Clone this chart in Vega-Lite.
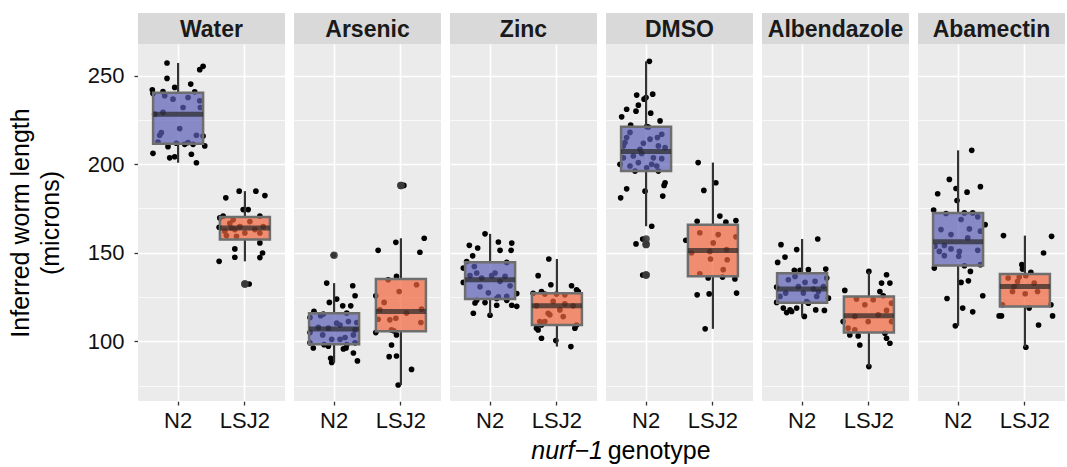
{
"$schema": "https://vega.github.io/schema/vega-lite/v6.json",
"padding": {"left": 8, "top": 13, "right": 0, "bottom": 5},
"config": {"font": "Liberation Sans", "view": {"stroke": null}},
"spacing": 0,
"title": {"text": "nurf−1", "subtitle": "\u200b\u00a0\u00a0\u00a0\u00a0\u00a0\u00a0\u00a0\u00a0\u00a0\u00a0\u00a0genotype", "orient": "bottom", "anchor": "start", "frame": "bounds", "dx": 523, "offset": 8, "fontSize": 25, "fontStyle": "italic", "fontWeight": "normal", "color": "#000000", "subtitleFontSize": 25, "subtitleColor": "#000000", "subtitleFontStyle": "normal", "subtitlePadding": -25},
"datasets": {"pts": [
{"trt":"Water","geno":"N2","len":257.1,"jit":-0.165},{"trt":"Water","geno":"N2","len":253.3,"jit":0.325},{"trt":"Water","geno":"N2","len":255.2,"jit":0.375},{"trt":"Water","geno":"N2","len":248.4,"jit":-0.165},{"trt":"Water","geno":"N2","len":245.2,"jit":0.19},{"trt":"Water","geno":"N2","len":243.3,"jit":-0.05},{"trt":"Water","geno":"N2","len":242.0,"jit":-0.385},{"trt":"Water","geno":"N2","len":241.0,"jit":-0.225},{"trt":"Water","geno":"N2","len":240.8,"jit":0.25},{"trt":"Water","geno":"N2","len":239.9,"jit":-0.375},{"trt":"Water","geno":"N2","len":238.6,"jit":-0.2},{"trt":"Water","geno":"N2","len":236.7,"jit":-0.075},{"trt":"Water","geno":"N2","len":237.6,"jit":0.15},{"trt":"Water","geno":"N2","len":235.8,"jit":0.325},{"trt":"Water","geno":"N2","len":232.0,"jit":0.075},{"trt":"Water","geno":"N2","len":232.0,"jit":0.335},{"trt":"Water","geno":"N2","len":229.2,"jit":-0.225},{"trt":"Water","geno":"N2","len":228.2,"jit":-0.35},{"trt":"Water","geno":"N2","len":220.1,"jit":0.025},{"trt":"Water","geno":"N2","len":217.8,"jit":-0.25},{"trt":"Water","geno":"N2","len":216.3,"jit":-0.275},{"trt":"Water","geno":"N2","len":216.3,"jit":0.275},{"trt":"Water","geno":"N2","len":215.9,"jit":0.375},{"trt":"Water","geno":"N2","len":212.5,"jit":-0.3},{"trt":"Water","geno":"N2","len":211.8,"jit":-0.025},{"trt":"Water","geno":"N2","len":211.2,"jit":0.1},{"trt":"Water","geno":"N2","len":211.2,"jit":0.225},{"trt":"Water","geno":"N2","len":212.2,"jit":0.15},{"trt":"Water","geno":"N2","len":209.9,"jit":-0.15},{"trt":"Water","geno":"N2","len":210.3,"jit":0.4},{"trt":"Water","geno":"N2","len":206.1,"jit":-0.375},{"trt":"Water","geno":"N2","len":205.6,"jit":0.2},{"trt":"Water","geno":"N2","len":203.6,"jit":-0.125},{"trt":"Water","geno":"N2","len":204.2,"jit":-0.05},{"trt":"Water","geno":"N2","len":200.8,"jit":0.275},
{"trt":"Water","geno":"LSJ2","len":184.8,"jit":-0.085},{"trt":"Water","geno":"LSJ2","len":184.8,"jit":0.165},{"trt":"Water","geno":"LSJ2","len":182.3,"jit":0.3},{"trt":"Water","geno":"LSJ2","len":181.0,"jit":-0.285},{"trt":"Water","geno":"LSJ2","len":174.4,"jit":-0.025},{"trt":"Water","geno":"LSJ2","len":174.4,"jit":0.05},{"trt":"Water","geno":"LSJ2","len":169.7,"jit":-0.375},{"trt":"Water","geno":"LSJ2","len":170.7,"jit":-0.325},{"trt":"Water","geno":"LSJ2","len":170.7,"jit":0.225},{"trt":"Water","geno":"LSJ2","len":164.4,"jit":-0.385},{"trt":"Water","geno":"LSJ2","len":164.0,"jit":-0.2},{"trt":"Water","geno":"LSJ2","len":163.1,"jit":-0.15},{"trt":"Water","geno":"LSJ2","len":159.7,"jit":-0.275},{"trt":"Water","geno":"LSJ2","len":159.3,"jit":-0.125},{"trt":"Water","geno":"LSJ2","len":161.2,"jit":0.225},{"trt":"Water","geno":"LSJ2","len":155.6,"jit":0.225},{"trt":"Water","geno":"LSJ2","len":152.2,"jit":-0.15},{"trt":"Water","geno":"LSJ2","len":149.9,"jit":0.265},{"trt":"Water","geno":"LSJ2","len":147.5,"jit":-0.15},{"trt":"Water","geno":"LSJ2","len":147.3,"jit":0.225},{"trt":"Water","geno":"LSJ2","len":145.2,"jit":-0.385},{"trt":"Water","geno":"LSJ2","len":132.4,"jit":0.0},{"trt":"Water","geno":"LSJ2","len":132.4,"jit":0.065},{"trt":"Water","geno":"LSJ2","len":166.7,"jit":-0.225},{"trt":"Water","geno":"LSJ2","len":164.8,"jit":-0.075},{"trt":"Water","geno":"LSJ2","len":167.6,"jit":0.075},{"trt":"Water","geno":"LSJ2","len":163.1,"jit":0.15},{"trt":"Water","geno":"LSJ2","len":161.2,"jit":0.0},{"trt":"Water","geno":"LSJ2","len":162.2,"jit":-0.3},{"trt":"Water","geno":"LSJ2","len":164.8,"jit":0.275},{"trt":"Water","geno":"LSJ2","len":168.6,"jit":-0.175},
{"trt":"Arsenic","geno":"N2","len":148.6,"jit":-0.01},{"trt":"Arsenic","geno":"N2","len":132.9,"jit":-0.11},{"trt":"Arsenic","geno":"N2","len":131.4,"jit":0.28},{"trt":"Arsenic","geno":"N2","len":125.8,"jit":0.315},{"trt":"Arsenic","geno":"N2","len":123.9,"jit":0.04},{"trt":"Arsenic","geno":"N2","len":122.0,"jit":-0.07},{"trt":"Arsenic","geno":"N2","len":120.1,"jit":0.13},{"trt":"Arsenic","geno":"N2","len":120.1,"jit":0.25},{"trt":"Arsenic","geno":"N2","len":117.0,"jit":-0.3},{"trt":"Arsenic","geno":"N2","len":115.5,"jit":-0.16},{"trt":"Arsenic","geno":"N2","len":116.0,"jit":0.19},{"trt":"Arsenic","geno":"N2","len":114.5,"jit":-0.2},{"trt":"Arsenic","geno":"N2","len":113.5,"jit":-0.36},{"trt":"Arsenic","geno":"N2","len":110.3,"jit":0.04},{"trt":"Arsenic","geno":"N2","len":110.7,"jit":0.34},{"trt":"Arsenic","geno":"N2","len":107.9,"jit":-0.235},{"trt":"Arsenic","geno":"N2","len":106.5,"jit":0.315},{"trt":"Arsenic","geno":"N2","len":105.0,"jit":-0.36},{"trt":"Arsenic","geno":"N2","len":103.7,"jit":0.29},{"trt":"Arsenic","geno":"N2","len":103.7,"jit":-0.17},{"trt":"Arsenic","geno":"N2","len":101.2,"jit":-0.035},{"trt":"Arsenic","geno":"N2","len":101.2,"jit":0.09},{"trt":"Arsenic","geno":"N2","len":102.2,"jit":0.165},{"trt":"Arsenic","geno":"N2","len":99.2,"jit":-0.36},{"trt":"Arsenic","geno":"N2","len":98.2,"jit":-0.15},{"trt":"Arsenic","geno":"N2","len":98.2,"jit":0.19},{"trt":"Arsenic","geno":"N2","len":99.2,"jit":0.315},{"trt":"Arsenic","geno":"N2","len":96.3,"jit":-0.31},{"trt":"Arsenic","geno":"N2","len":97.3,"jit":-0.085},{"trt":"Arsenic","geno":"N2","len":95.8,"jit":0.14},{"trt":"Arsenic","geno":"N2","len":96.3,"jit":0.18},{"trt":"Arsenic","geno":"N2","len":93.5,"jit":0.29},{"trt":"Arsenic","geno":"N2","len":90.5,"jit":-0.05},{"trt":"Arsenic","geno":"N2","len":88.1,"jit":-0.035},{"trt":"Arsenic","geno":"N2","len":89.0,"jit":0.35},{"trt":"Arsenic","geno":"N2","len":109.3,"jit":0.09},{"trt":"Arsenic","geno":"N2","len":107.5,"jit":-0.085},{"trt":"Arsenic","geno":"N2","len":111.2,"jit":0.215},
{"trt":"Arsenic","geno":"LSJ2","len":188.0,"jit":0.01},{"trt":"Arsenic","geno":"LSJ2","len":188.0,"jit":0.045},{"trt":"Arsenic","geno":"LSJ2","len":155.9,"jit":-0.075},{"trt":"Arsenic","geno":"LSJ2","len":158.2,"jit":0.35},{"trt":"Arsenic","geno":"LSJ2","len":151.4,"jit":-0.34},{"trt":"Arsenic","geno":"LSJ2","len":150.3,"jit":0.285},{"trt":"Arsenic","geno":"LSJ2","len":134.8,"jit":-0.19},{"trt":"Arsenic","geno":"LSJ2","len":136.7,"jit":-0.065},{"trt":"Arsenic","geno":"LSJ2","len":132.0,"jit":0.235},{"trt":"Arsenic","geno":"LSJ2","len":125.8,"jit":-0.375},{"trt":"Arsenic","geno":"LSJ2","len":128.2,"jit":-0.025},{"trt":"Arsenic","geno":"LSJ2","len":122.0,"jit":-0.25},{"trt":"Arsenic","geno":"LSJ2","len":118.2,"jit":0.31},{"trt":"Arsenic","geno":"LSJ2","len":117.8,"jit":-0.315},{"trt":"Arsenic","geno":"LSJ2","len":113.1,"jit":-0.075},{"trt":"Arsenic","geno":"LSJ2","len":112.5,"jit":-0.34},{"trt":"Arsenic","geno":"LSJ2","len":110.7,"jit":0.3},{"trt":"Arsenic","geno":"LSJ2","len":106.5,"jit":-0.14},{"trt":"Arsenic","geno":"LSJ2","len":106.0,"jit":-0.105},{"trt":"Arsenic","geno":"LSJ2","len":105.0,"jit":-0.375},{"trt":"Arsenic","geno":"LSJ2","len":103.7,"jit":-0.065},{"trt":"Arsenic","geno":"LSJ2","len":98.0,"jit":-0.14},{"trt":"Arsenic","geno":"LSJ2","len":91.8,"jit":-0.065},{"trt":"Arsenic","geno":"LSJ2","len":91.4,"jit":-0.175},{"trt":"Arsenic","geno":"LSJ2","len":84.2,"jit":0.16},{"trt":"Arsenic","geno":"LSJ2","len":75.4,"jit":-0.04},{"trt":"Arsenic","geno":"LSJ2","len":116.0,"jit":0.085},{"trt":"Arsenic","geno":"LSJ2","len":112.2,"jit":-0.165},
{"trt":"Zinc","geno":"N2","len":160.7,"jit":-0.075},{"trt":"Zinc","geno":"N2","len":154.2,"jit":-0.31},{"trt":"Zinc","geno":"N2","len":152.7,"jit":-0.185},{"trt":"Zinc","geno":"N2","len":156.1,"jit":0.125},{"trt":"Zinc","geno":"N2","len":155.5,"jit":0.325},{"trt":"Zinc","geno":"N2","len":151.4,"jit":0.15},{"trt":"Zinc","geno":"N2","len":151.4,"jit":0.315},{"trt":"Zinc","geno":"N2","len":148.3,"jit":-0.26},{"trt":"Zinc","geno":"N2","len":145.1,"jit":-0.35},{"trt":"Zinc","geno":"N2","len":144.6,"jit":0.25},{"trt":"Zinc","geno":"N2","len":142.3,"jit":-0.235},{"trt":"Zinc","geno":"N2","len":141.4,"jit":-0.4},{"trt":"Zinc","geno":"N2","len":138.6,"jit":-0.2},{"trt":"Zinc","geno":"N2","len":137.1,"jit":0.025},{"trt":"Zinc","geno":"N2","len":136.7,"jit":0.225},{"trt":"Zinc","geno":"N2","len":133.3,"jit":-0.4},{"trt":"Zinc","geno":"N2","len":130.8,"jit":-0.15},{"trt":"Zinc","geno":"N2","len":131.4,"jit":0.3},{"trt":"Zinc","geno":"N2","len":127.4,"jit":-0.025},{"trt":"Zinc","geno":"N2","len":127.0,"jit":0.4},{"trt":"Zinc","geno":"N2","len":125.5,"jit":0.25},{"trt":"Zinc","geno":"N2","len":125.1,"jit":0.125},{"trt":"Zinc","geno":"N2","len":123.2,"jit":-0.2},{"trt":"Zinc","geno":"N2","len":121.9,"jit":-0.075},{"trt":"Zinc","geno":"N2","len":120.4,"jit":0.1},{"trt":"Zinc","geno":"N2","len":123.2,"jit":0.25},{"trt":"Zinc","geno":"N2","len":120.4,"jit":0.325},{"trt":"Zinc","geno":"N2","len":119.8,"jit":0.4},{"trt":"Zinc","geno":"N2","len":121.7,"jit":-0.225},{"trt":"Zinc","geno":"N2","len":115.9,"jit":-0.25},{"trt":"Zinc","geno":"N2","len":114.8,"jit":0.0},{"trt":"Zinc","geno":"N2","len":124.2,"jit":0.1},{"trt":"Zinc","geno":"N2","len":137.1,"jit":-0.3},{"trt":"Zinc","geno":"N2","len":133.9,"jit":0.15},{"trt":"Zinc","geno":"N2","len":135.8,"jit":-0.125},{"trt":"Zinc","geno":"N2","len":138.6,"jit":0.075},
{"trt":"Zinc","geno":"LSJ2","len":146.5,"jit":-0.12},{"trt":"Zinc","geno":"LSJ2","len":137.1,"jit":-0.28},{"trt":"Zinc","geno":"LSJ2","len":132.0,"jit":-0.09},{"trt":"Zinc","geno":"LSJ2","len":131.4,"jit":0.22},{"trt":"Zinc","geno":"LSJ2","len":129.1,"jit":0.295},{"trt":"Zinc","geno":"LSJ2","len":128.2,"jit":-0.23},{"trt":"Zinc","geno":"LSJ2","len":127.2,"jit":-0.355},{"trt":"Zinc","geno":"LSJ2","len":126.7,"jit":-0.18},{"trt":"Zinc","geno":"LSJ2","len":126.7,"jit":-0.005},{"trt":"Zinc","geno":"LSJ2","len":126.3,"jit":0.12},{"trt":"Zinc","geno":"LSJ2","len":128.2,"jit":0.32},{"trt":"Zinc","geno":"LSJ2","len":121.2,"jit":0.12},{"trt":"Zinc","geno":"LSJ2","len":120.1,"jit":-0.305},{"trt":"Zinc","geno":"LSJ2","len":120.1,"jit":0.245},{"trt":"Zinc","geno":"LSJ2","len":115.9,"jit":-0.13},{"trt":"Zinc","geno":"LSJ2","len":114.0,"jit":0.095},{"trt":"Zinc","geno":"LSJ2","len":111.2,"jit":-0.18},{"trt":"Zinc","geno":"LSJ2","len":111.2,"jit":-0.255},{"trt":"Zinc","geno":"LSJ2","len":109.3,"jit":-0.23},{"trt":"Zinc","geno":"LSJ2","len":109.3,"jit":0.295},{"trt":"Zinc","geno":"LSJ2","len":106.5,"jit":-0.28},{"trt":"Zinc","geno":"LSJ2","len":107.5,"jit":-0.305},{"trt":"Zinc","geno":"LSJ2","len":107.5,"jit":0.27},{"trt":"Zinc","geno":"LSJ2","len":101.8,"jit":-0.23},{"trt":"Zinc","geno":"LSJ2","len":100.5,"jit":-0.015},{"trt":"Zinc","geno":"LSJ2","len":97.1,"jit":0.21},{"trt":"Zinc","geno":"LSJ2","len":122.6,"jit":-0.055},{"trt":"Zinc","geno":"LSJ2","len":117.8,"jit":0.045},{"trt":"Zinc","geno":"LSJ2","len":115.0,"jit":-0.105},
{"trt":"DMSO","geno":"N2","len":258.0,"jit":0.05},{"trt":"DMSO","geno":"N2","len":239.0,"jit":-0.14},{"trt":"DMSO","geno":"N2","len":239.5,"jit":0.1},{"trt":"DMSO","geno":"N2","len":237.6,"jit":0.0},{"trt":"DMSO","geno":"N2","len":236.7,"jit":-0.03},{"trt":"DMSO","geno":"N2","len":233.3,"jit":-0.115},{"trt":"DMSO","geno":"N2","len":229.9,"jit":-0.15},{"trt":"DMSO","geno":"N2","len":228.8,"jit":0.07},{"trt":"DMSO","geno":"N2","len":226.7,"jit":-0.365},{"trt":"DMSO","geno":"N2","len":222.0,"jit":-0.23},{"trt":"DMSO","geno":"N2","len":221.2,"jit":0.01},{"trt":"DMSO","geno":"N2","len":216.9,"jit":0.235},{"trt":"DMSO","geno":"N2","len":215.0,"jit":0.17},{"trt":"DMSO","geno":"N2","len":209.3,"jit":0.285},{"trt":"DMSO","geno":"N2","len":212.2,"jit":-0.315},{"trt":"DMSO","geno":"N2","len":210.3,"jit":-0.34},{"trt":"DMSO","geno":"N2","len":211.8,"jit":-0.04},{"trt":"DMSO","geno":"N2","len":203.6,"jit":0.11},{"trt":"DMSO","geno":"N2","len":203.6,"jit":-0.34},{"trt":"DMSO","geno":"N2","len":203.1,"jit":0.235},{"trt":"DMSO","geno":"N2","len":199.9,"jit":0.085},{"trt":"DMSO","geno":"N2","len":199.9,"jit":-0.39},{"trt":"DMSO","geno":"N2","len":196.1,"jit":-0.165},{"trt":"DMSO","geno":"N2","len":196.1,"jit":0.185},{"trt":"DMSO","geno":"N2","len":189.5,"jit":0.285},{"trt":"DMSO","geno":"N2","len":188.0,"jit":0.27},{"trt":"DMSO","geno":"N2","len":186.1,"jit":-0.29},{"trt":"DMSO","geno":"N2","len":184.8,"jit":-0.015},{"trt":"DMSO","geno":"N2","len":181.0,"jit":-0.38},{"trt":"DMSO","geno":"N2","len":182.0,"jit":0.25},{"trt":"DMSO","geno":"N2","len":165.0,"jit":0.085},{"trt":"DMSO","geno":"N2","len":155.0,"jit":-0.15},{"trt":"DMSO","geno":"N2","len":157.8,"jit":-0.05},{"trt":"DMSO","geno":"N2","len":154.6,"jit":0.0},{"trt":"DMSO","geno":"N2","len":137.5,"jit":0.0},{"trt":"DMSO","geno":"N2","len":137.5,"jit":-0.05},{"trt":"DMSO","geno":"N2","len":204.6,"jit":-0.19},{"trt":"DMSO","geno":"N2","len":208.4,"jit":-0.09},{"trt":"DMSO","geno":"N2","len":210.3,"jit":0.185},{"trt":"DMSO","geno":"N2","len":199.0,"jit":-0.24},{"trt":"DMSO","geno":"N2","len":214.1,"jit":0.06},{"trt":"DMSO","geno":"N2","len":200.9,"jit":-0.115},{"trt":"DMSO","geno":"N2","len":217.9,"jit":-0.24},{"trt":"DMSO","geno":"N2","len":206.0,"jit":-0.065},{"trt":"DMSO","geno":"N2","len":215.0,"jit":-0.29},{"trt":"DMSO","geno":"N2","len":221.0,"jit":0.035},{"trt":"DMSO","geno":"N2","len":199.0,"jit":0.16},{"trt":"DMSO","geno":"N2","len":198.0,"jit":0.01},{"trt":"DMSO","geno":"N2","len":224.4,"jit":0.21},{"trt":"DMSO","geno":"N2","len":231.0,"jit":-0.29},
{"trt":"DMSO","geno":"LSJ2","len":200.9,"jit":-0.22},{"trt":"DMSO","geno":"LSJ2","len":189.5,"jit":0.045},{"trt":"DMSO","geno":"LSJ2","len":185.2,"jit":-0.135},{"trt":"DMSO","geno":"LSJ2","len":170.7,"jit":0.105},{"trt":"DMSO","geno":"LSJ2","len":167.8,"jit":-0.235},{"trt":"DMSO","geno":"LSJ2","len":167.3,"jit":0.195},{"trt":"DMSO","geno":"LSJ2","len":168.2,"jit":0.345},{"trt":"DMSO","geno":"LSJ2","len":160.3,"jit":0.08},{"trt":"DMSO","geno":"LSJ2","len":157.1,"jit":-0.405},{"trt":"DMSO","geno":"LSJ2","len":159.0,"jit":0.345},{"trt":"DMSO","geno":"LSJ2","len":155.6,"jit":0.005},{"trt":"DMSO","geno":"LSJ2","len":149.9,"jit":-0.32},{"trt":"DMSO","geno":"LSJ2","len":150.8,"jit":-0.045},{"trt":"DMSO","geno":"LSJ2","len":151.8,"jit":0.205},{"trt":"DMSO","geno":"LSJ2","len":146.5,"jit":-0.035},{"trt":"DMSO","geno":"LSJ2","len":146.1,"jit":0.215},{"trt":"DMSO","geno":"LSJ2","len":138.2,"jit":-0.195},{"trt":"DMSO","geno":"LSJ2","len":135.8,"jit":-0.07},{"trt":"DMSO","geno":"LSJ2","len":136.3,"jit":0.145},{"trt":"DMSO","geno":"LSJ2","len":135.2,"jit":0.33},{"trt":"DMSO","geno":"LSJ2","len":126.3,"jit":-0.235},{"trt":"DMSO","geno":"LSJ2","len":126.8,"jit":-0.055},{"trt":"DMSO","geno":"LSJ2","len":127.3,"jit":0.355},{"trt":"DMSO","geno":"LSJ2","len":107.1,"jit":-0.115},{"trt":"DMSO","geno":"LSJ2","len":161.3,"jit":-0.195},{"trt":"DMSO","geno":"LSJ2","len":140.5,"jit":0.155},
{"trt":"Albendazole","geno":"N2","len":157.8,"jit":0.235},{"trt":"Albendazole","geno":"N2","len":154.6,"jit":-0.315},{"trt":"Albendazole","geno":"N2","len":151.8,"jit":-0.08},{"trt":"Albendazole","geno":"N2","len":147.6,"jit":-0.255},{"trt":"Albendazole","geno":"N2","len":144.6,"jit":-0.365},{"trt":"Albendazole","geno":"N2","len":140.1,"jit":-0.115},{"trt":"Albendazole","geno":"N2","len":140.1,"jit":-0.03},{"trt":"Albendazole","geno":"N2","len":140.5,"jit":0.095},{"trt":"Albendazole","geno":"N2","len":140.8,"jit":0.355},{"trt":"Albendazole","geno":"N2","len":134.8,"jit":-0.205},{"trt":"Albendazole","geno":"N2","len":135.8,"jit":0.37},{"trt":"Albendazole","geno":"N2","len":133.9,"jit":0.195},{"trt":"Albendazole","geno":"N2","len":133.3,"jit":0.045},{"trt":"Albendazole","geno":"N2","len":131.0,"jit":0.32},{"trt":"Albendazole","geno":"N2","len":130.7,"jit":-0.38},{"trt":"Albendazole","geno":"N2","len":127.3,"jit":0.02},{"trt":"Albendazole","geno":"N2","len":127.3,"jit":-0.245},{"trt":"Albendazole","geno":"N2","len":125.4,"jit":0.22},{"trt":"Albendazole","geno":"N2","len":124.4,"jit":0.395},{"trt":"Albendazole","geno":"N2","len":122.0,"jit":-0.38},{"trt":"Albendazole","geno":"N2","len":122.5,"jit":0.07},{"trt":"Albendazole","geno":"N2","len":121.6,"jit":0.095},{"trt":"Albendazole","geno":"N2","len":118.8,"jit":-0.28},{"trt":"Albendazole","geno":"N2","len":117.8,"jit":-0.18},{"trt":"Albendazole","geno":"N2","len":118.8,"jit":-0.08},{"trt":"Albendazole","geno":"N2","len":116.3,"jit":-0.23},{"trt":"Albendazole","geno":"N2","len":114.1,"jit":0.035},{"trt":"Albendazole","geno":"N2","len":117.8,"jit":0.205},{"trt":"Albendazole","geno":"N2","len":117.5,"jit":0.335},{"trt":"Albendazole","geno":"N2","len":116.9,"jit":-0.155},{"trt":"Albendazole","geno":"N2","len":128.2,"jit":0.245},{"trt":"Albendazole","geno":"N2","len":125.4,"jit":-0.33},{"trt":"Albendazole","geno":"N2","len":136.7,"jit":-0.105},{"trt":"Albendazole","geno":"N2","len":129.6,"jit":0.17},{"trt":"Albendazole","geno":"N2","len":131.0,"jit":-0.055},
{"trt":"Albendazole","geno":"LSJ2","len":139.5,"jit":0.0},{"trt":"Albendazole","geno":"LSJ2","len":137.6,"jit":0.265},{"trt":"Albendazole","geno":"LSJ2","len":132.9,"jit":0.19},{"trt":"Albendazole","geno":"LSJ2","len":132.9,"jit":0.315},{"trt":"Albendazole","geno":"LSJ2","len":128.8,"jit":-0.36},{"trt":"Albendazole","geno":"LSJ2","len":128.2,"jit":0.165},{"trt":"Albendazole","geno":"LSJ2","len":125.8,"jit":0.215},{"trt":"Albendazole","geno":"LSJ2","len":123.9,"jit":-0.185},{"trt":"Albendazole","geno":"LSJ2","len":123.5,"jit":0.065},{"trt":"Albendazole","geno":"LSJ2","len":121.6,"jit":0.34},{"trt":"Albendazole","geno":"LSJ2","len":117.5,"jit":0.265},{"trt":"Albendazole","geno":"LSJ2","len":115.0,"jit":0.14},{"trt":"Albendazole","geno":"LSJ2","len":111.2,"jit":-0.01},{"trt":"Albendazole","geno":"LSJ2","len":111.2,"jit":-0.385},{"trt":"Albendazole","geno":"LSJ2","len":111.2,"jit":0.34},{"trt":"Albendazole","geno":"LSJ2","len":107.5,"jit":-0.31},{"trt":"Albendazole","geno":"LSJ2","len":106.5,"jit":-0.21},{"trt":"Albendazole","geno":"LSJ2","len":103.7,"jit":-0.285},{"trt":"Albendazole","geno":"LSJ2","len":103.1,"jit":-0.16},{"trt":"Albendazole","geno":"LSJ2","len":104.6,"jit":0.24},{"trt":"Albendazole","geno":"LSJ2","len":101.8,"jit":0.265},{"trt":"Albendazole","geno":"LSJ2","len":98.0,"jit":-0.135},{"trt":"Albendazole","geno":"LSJ2","len":99.0,"jit":0.315},{"trt":"Albendazole","geno":"LSJ2","len":85.8,"jit":0.0},{"trt":"Albendazole","geno":"LSJ2","len":120.7,"jit":-0.06},{"trt":"Albendazole","geno":"LSJ2","len":114.1,"jit":-0.21},
{"trt":"Abamectin","geno":"N2","len":207.8,"jit":0.205},{"trt":"Abamectin","geno":"N2","len":191.4,"jit":-0.13},{"trt":"Abamectin","geno":"N2","len":183.3,"jit":-0.305},{"trt":"Abamectin","geno":"N2","len":186.3,"jit":-0.03},{"trt":"Abamectin","geno":"N2","len":184.2,"jit":0.135},{"trt":"Abamectin","geno":"N2","len":187.3,"jit":0.335},{"trt":"Abamectin","geno":"N2","len":179.5,"jit":-0.015},{"trt":"Abamectin","geno":"N2","len":174.1,"jit":-0.365},{"trt":"Abamectin","geno":"N2","len":172.2,"jit":-0.18},{"trt":"Abamectin","geno":"N2","len":172.5,"jit":0.095},{"trt":"Abamectin","geno":"N2","len":172.5,"jit":0.22},{"trt":"Abamectin","geno":"N2","len":170.3,"jit":0.295},{"trt":"Abamectin","geno":"N2","len":168.8,"jit":0.045},{"trt":"Abamectin","geno":"N2","len":165.9,"jit":0.405},{"trt":"Abamectin","geno":"N2","len":163.5,"jit":0.17},{"trt":"Abamectin","geno":"N2","len":162.2,"jit":0.335},{"trt":"Abamectin","geno":"N2","len":153.7,"jit":-0.345},{"trt":"Abamectin","geno":"N2","len":152.2,"jit":-0.105},{"trt":"Abamectin","geno":"N2","len":150.8,"jit":-0.28},{"trt":"Abamectin","geno":"N2","len":150.8,"jit":0.02},{"trt":"Abamectin","geno":"N2","len":148.4,"jit":-0.205},{"trt":"Abamectin","geno":"N2","len":148.0,"jit":0.01},{"trt":"Abamectin","geno":"N2","len":151.4,"jit":0.295},{"trt":"Abamectin","geno":"N2","len":141.4,"jit":-0.355},{"trt":"Abamectin","geno":"N2","len":142.7,"jit":0.095},{"trt":"Abamectin","geno":"N2","len":143.3,"jit":0.335},{"trt":"Abamectin","geno":"N2","len":139.5,"jit":0.185},{"trt":"Abamectin","geno":"N2","len":133.3,"jit":0.045},{"trt":"Abamectin","geno":"N2","len":134.2,"jit":0.155},{"trt":"Abamectin","geno":"N2","len":125.8,"jit":0.37},{"trt":"Abamectin","geno":"N2","len":124.2,"jit":-0.165},{"trt":"Abamectin","geno":"N2","len":118.8,"jit":0.07},{"trt":"Abamectin","geno":"N2","len":116.7,"jit":0.22},{"trt":"Abamectin","geno":"N2","len":108.8,"jit":-0.04},{"trt":"Abamectin","geno":"N2","len":154.1,"jit":-0.205},{"trt":"Abamectin","geno":"N2","len":160.3,"jit":-0.105},{"trt":"Abamectin","geno":"N2","len":163.1,"jit":-0.255},{"trt":"Abamectin","geno":"N2","len":158.4,"jit":0.145},
{"trt":"Abamectin","geno":"LSJ2","len":159.7,"jit":-0.32},{"trt":"Abamectin","geno":"LSJ2","len":159.3,"jit":0.4},{"trt":"Abamectin","geno":"LSJ2","len":149.9,"jit":0.28},{"trt":"Abamectin","geno":"LSJ2","len":143.3,"jit":-0.045},{"trt":"Abamectin","geno":"LSJ2","len":140.8,"jit":-0.035},{"trt":"Abamectin","geno":"LSJ2","len":139.0,"jit":0.09},{"trt":"Abamectin","geno":"LSJ2","len":135.8,"jit":-0.25},{"trt":"Abamectin","geno":"LSJ2","len":136.3,"jit":-0.085},{"trt":"Abamectin","geno":"LSJ2","len":137.1,"jit":0.015},{"trt":"Abamectin","geno":"LSJ2","len":128.2,"jit":-0.185},{"trt":"Abamectin","geno":"LSJ2","len":128.2,"jit":0.19},{"trt":"Abamectin","geno":"LSJ2","len":126.9,"jit":0.005},{"trt":"Abamectin","geno":"LSJ2","len":120.7,"jit":-0.335},{"trt":"Abamectin","geno":"LSJ2","len":120.7,"jit":0.39},{"trt":"Abamectin","geno":"LSJ2","len":118.8,"jit":0.065},{"trt":"Abamectin","geno":"LSJ2","len":114.4,"jit":-0.385},{"trt":"Abamectin","geno":"LSJ2","len":114.4,"jit":-0.35},{"trt":"Abamectin","geno":"LSJ2","len":114.4,"jit":0.415},{"trt":"Abamectin","geno":"LSJ2","len":109.3,"jit":0.205},{"trt":"Abamectin","geno":"LSJ2","len":96.7,"jit":0.015},{"trt":"Abamectin","geno":"LSJ2","len":131.0,"jit":-0.16},{"trt":"Abamectin","geno":"LSJ2","len":132.9,"jit":0.14},{"trt":"Abamectin","geno":"LSJ2","len":133.8,"jit":-0.11}
]},
"vconcat": [
{
"data": {"values": [{"trt":"Water"},{"trt":"Arsenic"},{"trt":"Zinc"},{"trt":"DMSO"},{"trt":"Albendazole"},{"trt":"Abamectin"}]},
"facet": {"column": {"field": "trt", "type": "nominal", "sort": ["Water","Arsenic","Zinc","DMSO","Albendazole","Abamectin"], "header": null}},
"spacing": 9,
"bounds": "flush",
"spec": {
"width": 147, "height": 31,
"view": {"fill": "#D9D9D9", "stroke": null},
"mark": {"type": "text", "fontSize": 23, "fontWeight": "bold", "color": "#1A1A1A", "baseline": "middle", "align": "center", "dy": 1},
"encoding": {"text": {"field": "trt", "type": "nominal"}}
}
},
{
"data": {"name": "pts"},
"facet": {"column": {"field": "trt", "type": "nominal", "sort": ["Water","Arsenic","Zinc","DMSO","Albendazole","Abamectin"], "header": null}},
"spacing": 9,
"bounds": "flush",
"spec": {
"width": 147, "height": 357,
"view": {"fill": "#EBEBEB", "stroke": null},
"encoding": {
"x": {"field": "geno", "type": "nominal", "sort": ["N2","LSJ2"], "scale": {"domain": ["N2","LSJ2"], "paddingInner": 0.25, "paddingOuter": 0.225}, "title": null,
"axis": {"bandPosition": 0.5, "grid": true, "gridColor": "#FFFFFF", "gridWidth": 1.6, "domain": false, "tickColor": "#333333", "tickSize": 4, "tickWidth": 1.3, "labelFontSize": 22, "labelColor": "#111111", "labelPadding": 5, "labelAngle": 0}},
"y": {"field": "len", "type": "quantitative", "scale": {"domain": [66.4, 267.8], "nice": false, "zero": false},
"axis": {"values": [75,100,125,150,175,200,225,250], "labelExpr": "datum.value % 50 === 0 ? datum.label : ''", "grid": true, "gridColor": "#FFFFFF", "gridWidth": {"condition": {"test": "datum.value % 50 === 0", "value": 1.6}, "value": 0.7}, "tickColor": {"condition": {"test": "datum.value % 50 === 0", "value": "#333333"}, "value": "transparent"}, "tickSize": 4, "tickWidth": 1.3, "domain": false, "labelFontSize": 22, "labelColor": "#111111", "labelPadding": 10, "title": ["Inferred worm length", "(microns)"], "titleFontSize": 25, "titleLineHeight": 30, "titleFontWeight": "normal", "titleColor": "#000000", "titlePadding": 24}}
},
"layer": [
{"mark": {"type": "point", "filled": true, "color": "#000000", "size": 32, "opacity": 1},
"encoding": {"xOffset": {"field": "jit", "type": "quantitative", "scale": {"domain": [-0.5, 0.5], "range": [-8.4, 58.4]}}}},
{"transform": [{"filter": "datum.geno === 'N2'"}],
"mark": {"type": "boxplot", "size": 50, "extent": 1.5,
"box": {"color": "#5C60B8", "stroke": "#6E6E6E", "strokeWidth": 2.5, "fillOpacity": 0.7},
"median": {"color": "#262626", "thickness": 5},
"rule": {"color": "#333333", "strokeWidth": 2.2},
"outliers": {"filled": true, "color": "#3A3A3A", "size": 55, "opacity": 0.9}}},
{"transform": [{"filter": "datum.geno === 'LSJ2'"}],
"mark": {"type": "boxplot", "size": 50, "extent": 1.5,
"box": {"color": "#F2643B", "stroke": "#6E6E6E", "strokeWidth": 2.5, "fillOpacity": 0.7},
"median": {"color": "#262626", "thickness": 5},
"rule": {"color": "#333333", "strokeWidth": 2.2},
"outliers": {"filled": true, "color": "#3A3A3A", "size": 55, "opacity": 0.9}}}
]
}
}
]
}
